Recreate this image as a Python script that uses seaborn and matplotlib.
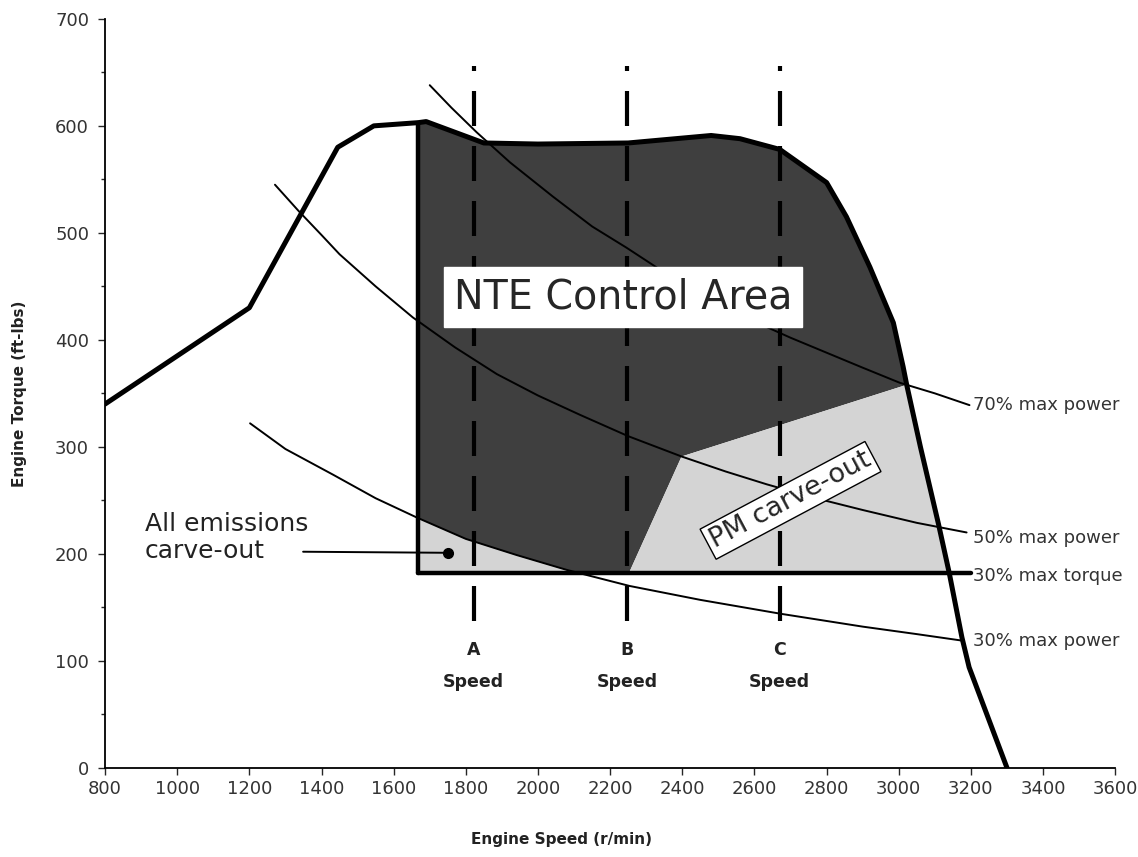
import numpy as np
import matplotlib
matplotlib.use("Agg")
import matplotlib.pyplot as plt
from matplotlib.ticker import MultipleLocator
import seaborn as sns

sns.set_style("white")
plt.rcParams['font.family'] = ['DejaVu Sans']

# full-load torque curve
speed_full = [800, 1200, 1445, 1545, 1668, 1690, 1850, 2000, 2250, 2480, 2560, 2670,
              2800, 2855, 2920, 2985, 3012, 3022, 3060, 3110, 3140, 3175, 3195, 3300]
torque_full = [340, 430, 580, 600, 603, 604, 584, 583, 584, 591, 588, 578,
               547, 515, 468, 416, 375, 358, 300, 228, 182, 122, 94, 0]

# constant power curves
p70_speed = [1700, 1760, 1830, 1922, 2041, 2150, 2246, 2400, 2500, 2614, 2700, 2800, 2900, 3002, 3100, 3196]
p70_torque = [638, 617, 594, 566, 534, 506, 486, 452, 435, 415, 402, 388, 374, 360, 350, 339]
p50_speed = [1271, 1335, 1400, 1450, 1550, 1653, 1770, 1886, 2000, 2116, 2250, 2398, 2520, 2634,
             2770, 2900, 3050, 3188]
p50_torque = [545, 521, 498, 480, 450, 421, 393, 368, 348, 330, 310, 291, 277, 265,
              252, 241, 229, 220]
p30_speed = [1202, 1300, 1432, 1550, 1664, 1800, 1940, 2080, 2254, 2450, 2673, 2900, 3050, 3174]
p30_torque = [322, 298, 274, 252, 234, 214, 199, 185, 170, 157, 144, 132, 125, 119]

# NTE zone limits
nte_min_speed = 1668
torque_30 = 182
torque_30_end = 3199
pm_corner_speed = [2252, 2398, 3022]
pm_corner_torque = [182, 291, 358]

# A / B / C test speeds
test_speeds = [1822, 2248, 2670]
test_names = ["A", "B", "C"]

right_labels = ["70% max power", "50% max power", "30% max torque", "30% max power"]
right_label_y = [339, 215, 179, 119]

fig, ax = plt.subplots(figsize=(11.38, 8.57), dpi=100)
fig.subplots_adjust(left=0.0923, right=0.98, bottom=0.104, top=0.978)

sf = np.array(speed_full)
tf = np.array(torque_full)

# dark NTE control area
m = (sf >= nte_min_speed) & (sf <= pm_corner_speed[2])
nte_x = [nte_min_speed] + list(sf[m]) + pm_corner_speed[::-1][1:]
nte_y = [torque_30] + list(tf[m]) + pm_corner_torque[::-1][1:]
ax.fill(nte_x, nte_y, color="#3f3f3f", lw=0, zorder=1)

# PM carve-out
m2 = (sf > pm_corner_speed[2]) & (tf >= torque_30)
pm_x = pm_corner_speed + list(sf[m2])
pm_y = pm_corner_torque + list(tf[m2])
ax.fill(pm_x, pm_y, color="#d4d4d4", lw=0, zorder=1)

# all emissions carve-out
p30s = np.array(p30_speed)
p30t = np.array(p30_torque)
ax.fill_between(p30s, torque_30, p30t, where=(p30s >= nte_min_speed - 5) & (p30t >= torque_30),
                interpolate=True, color="#d4d4d4", lw=0, zorder=1)

# power curves
for xs, ys in [(p70_speed, p70_torque), (p50_speed, p50_torque), (p30_speed, p30_torque)]:
    sns.lineplot(x=xs, y=ys, sort=False, estimator=None, color="black", lw=1.4, ax=ax, zorder=2)

# dashed test speed lines
for s, name in zip(test_speeds, test_names):
    ax.plot([s, s], [656, 135], color="black", lw=3, ls=(7.2, (8.4, 4.8)), zorder=3)
    ax.text(s, 110, name, ha="center", va="center", fontsize=12.5, fontweight="bold", color="#222222")
    ax.text(s, 80, "Speed", ha="center", va="center", fontsize=12.5, fontweight="bold", color="#222222")

# NTE boundary lines
ax.plot([nte_min_speed, nte_min_speed], [torque_30, 603], color="black", lw=3.2, zorder=4)
ax.plot([nte_min_speed, torque_30_end], [torque_30, torque_30], color="black", lw=3.2, zorder=4)

# full-load curve
sns.lineplot(x=speed_full, y=torque_full, sort=False, estimator=None, color="black", lw=3.6,
             ax=ax, zorder=4)

# labels in the plot
ax.text(2235, 440, "NTE Control Area", fontsize=28.5, ha="center", va="center", zorder=5,
        bbox=dict(boxstyle="square,pad=0.25", fc="white", ec="white"))
ax.text(2700, 250, "PM carve-out", fontsize=19.5, ha="center", va="center", rotation=28, zorder=5,
        rotation_mode="anchor",
        bbox=dict(boxstyle="square,pad=0.15", fc="white", ec="black", lw=1))
ax.text(911, 228, "All emissions", fontsize=18, ha="left", va="center", color="#222222")
ax.text(911, 203, "carve-out", fontsize=18, ha="left", va="center", color="#222222")
ax.plot([1349, 1750], [202, 201], color="black", lw=1.4, zorder=5)
ax.plot([1750], [201], "o", color="black", ms=7, zorder=5)

for lab, y in zip(right_labels, right_label_y):
    ax.text(3205, y, lab, fontsize=13, ha="left", va="center", color="#333333", clip_on=False)

ax.set_xlim(800, 3600)
ax.set_ylim(0, 700)
ax.set_xticks(range(800, 3601, 200))
ax.set_yticks(range(0, 701, 100))
ax.yaxis.set_minor_locator(MultipleLocator(50))
ax.tick_params(axis="both", which="major", direction="out", length=5, width=1,
               labelsize=13, labelcolor="#333333", bottom=True, left=True)
ax.tick_params(axis="y", which="major", pad=6.5)
ax.tick_params(axis="y", which="minor", direction="out", length=3, width=1, left=True)

for side in ["top", "right"]:
    ax.spines[side].set_visible(False)
for side in ["left", "bottom"]:
    ax.spines[side].set_color("black")
    ax.spines[side].set_linewidth(1.3)

ax.set_xlabel("Engine Speed (r/min)", fontsize=11, fontweight="bold", color="#222222")
ax.xaxis.set_label_coords(0.452, -0.086)
ax.set_ylabel("Engine Torque (ft-lbs)", fontsize=11, fontweight="bold", color="#222222")
ax.yaxis.set_label_coords(-0.077, 0.5)

fig.savefig("out.png", dpi=100)
